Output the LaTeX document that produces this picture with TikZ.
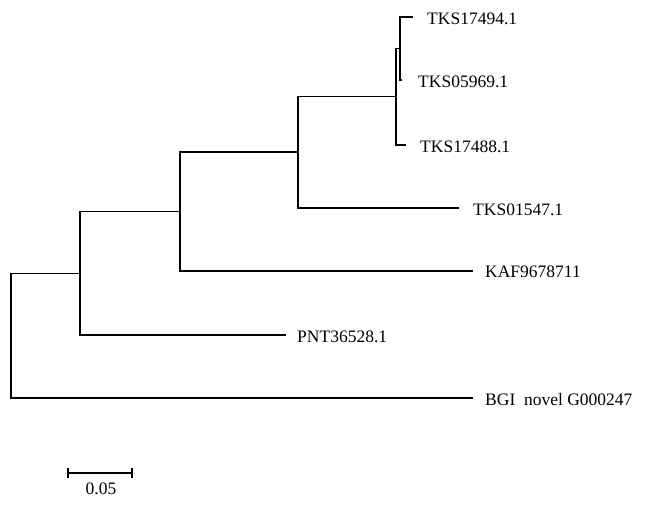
\documentclass[tikz,border=0pt]{standalone}
\usepackage{fontspec}
\setmainfont{Liberation Serif}
\begin{document}
\begin{tikzpicture}[x=1bp,y=-1bp,
  branch/.style={line width=1.9bp,black,line cap=rect},
  leaf/.style={anchor=west,inner sep=0pt,font=\fontsize{17.5bp}{20bp}\selectfont}]
\useasboundingbox (0,0) rectangle (649,508);
% internal nodes
\coordinate (r)  at (11,335.5);
\coordinate (n1) at (80,273.5);
\coordinate (n2) at (180,211.5);
\coordinate (n3) at (298,152);
\coordinate (n4) at (396,96.5);
\coordinate (n5) at (400,48.5);
% leaf tips
\coordinate (t1) at (412,17);
\coordinate (t2) at (401,80);
\coordinate (t3) at (405,145);
\coordinate (t4) at (458,208);
\coordinate (t5) at (472,271);
\coordinate (t6) at (285,335);
\coordinate (t7) at (472,398);
% branches
\draw[branch] (n5) |- (t1);
\draw[branch] (n5) |- (t2);
\draw[branch] (n4) |- (n5);
\draw[branch] (n4) |- (t3);
\draw[branch] (n3) |- (n4);
\draw[branch] (n3) |- (t4);
\draw[branch] (n2) |- (n3);
\draw[branch] (n2) |- (t5);
\draw[branch] (n1) |- (n2);
\draw[branch] (n1) |- (t6);
\draw[branch] (r) |- (n1);
\draw[branch] (r) |- (t7);
% labels
\node[leaf] (L1) at (427,19) {TKS17494.1};
\node[leaf] (L2) at (418,82) {TKS05969.1};
\node[leaf] (L3) at (420,147) {TKS17488.1};
\node[leaf] (L4) at (473,210) {TKS01547.1};
\node[leaf] (L5) at (485,272) {KAF9678711};
\node[leaf] (L6) at (297,337) {PNT36528.1};
\node[leaf] (L7) at (485,400) {BGI\ \ novel G000247};
% scale bar
\coordinate (s1) at (68,473);
\coordinate (s2) at (132,473);
\draw[line width=1.9bp] (s1) -- (s2);
\draw[line width=1.9bp] ([yshift=-5bp]s1) -- ([yshift=5bp]s1);
\draw[line width=1.9bp] ([yshift=-5bp]s2) -- ([yshift=5bp]s2);
\node[font=\fontsize{17.5bp}{20bp}\selectfont,inner sep=0pt] (sl) at (101,489) {0.05};
\end{tikzpicture}
\end{document}
